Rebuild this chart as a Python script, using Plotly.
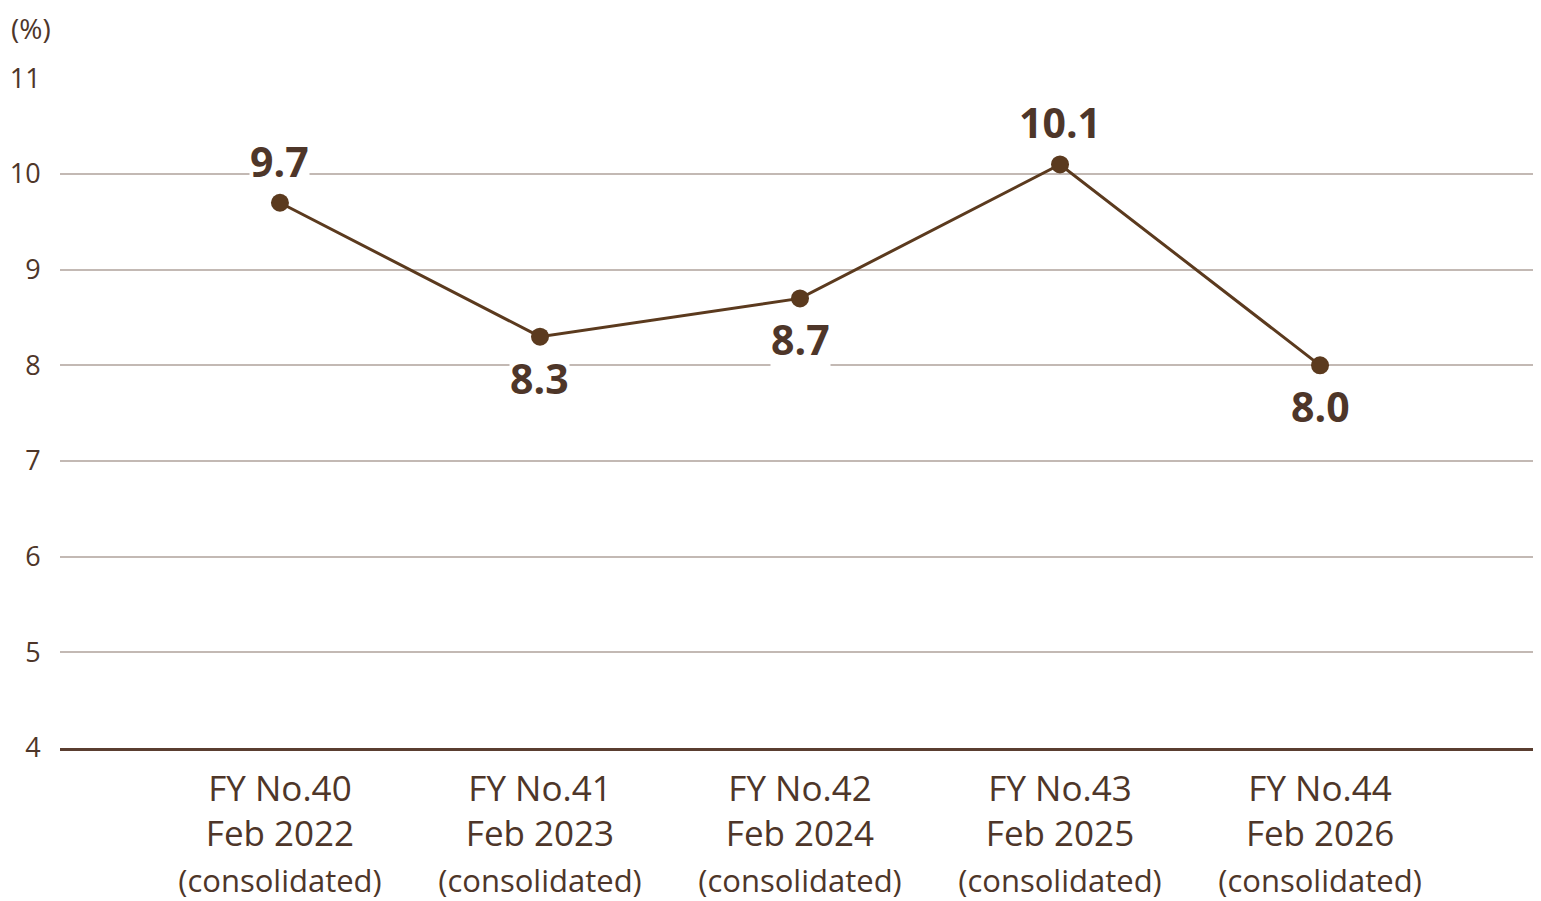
import plotly.graph_objects as go

# data
periods = ["FY No.40", "FY No.41", "FY No.42", "FY No.43", "FY No.44"]
months = ["Feb 2022", "Feb 2023", "Feb 2024", "Feb 2025", "Feb 2026"]
values = [9.7, 8.3, 8.7, 10.1, 8.0]
label_side = ["above", "below", "below", "above", "below"]
y_ticks = [4, 5, 6, 7, 8, 9, 10, 11]

LINE = "#5b3a1e"
TEXT = "#4e3629"
GRID = "#c3b9b4"
FONT = "Open Sans"

tick_text = [
    f"{p}<br>{m}<br><span style='font-size:31px'>(consolidated)</span>"
    for p, m in zip(periods, months)
]
x_idx = list(range(len(values)))

fig = go.Figure()
fig.add_trace(go.Scatter(
    x=x_idx,
    y=values,
    mode="lines+markers",
    line=dict(color=LINE, width=3),
    marker=dict(size=18, color=LINE),
    hoverinfo="skip",
    showlegend=False,
))

# value labels with white background so they break the gridlines
for i, (v, side) in enumerate(zip(values, label_side)):
    fig.add_annotation(
        x=i, y=v, xref="x", yref="y",
        text=f"<b>{v:.1f}</b>",
        showarrow=False,
        yshift=42 if side == "above" else -41,
        font=dict(family=FONT, size=41, color=TEXT),
        bgcolor="white",
        borderpad=0,
    )

fig.add_annotation(
    x=0, y=1, xref="paper", yref="paper",
    text="(%)", showarrow=False,
    xanchor="left", yanchor="top",
    xshift=-50, yshift=70,
    font=dict(family=FONT, size=28, color=TEXT),
    borderpad=0,
)

# page body has an 8px margin, so the figure is 8px smaller than the window
fig.update_layout(
    width=1533,
    height=893,
    margin=dict(l=52, r=1, t=70, b=153),
    paper_bgcolor="white",
    plot_bgcolor="white",
    font=dict(family=FONT, color=TEXT),
    xaxis=dict(
        range=[-0.846, 4.846],
        tickmode="array",
        tickvals=x_idx,
        ticktext=tick_text,
        tickfont=dict(family=FONT, size=35, color=TEXT),
        showgrid=False,
        zeroline=False,
        showline=True,
        linecolor="#5a3e30",
        linewidth=2.5,
        ticks="outside",
        ticklen=8,
        tickcolor="rgba(0,0,0,0)",
        automargin=False,
    ),
    yaxis=dict(
        range=[4, 11.004],
        tickmode="array",
        tickvals=y_ticks,
        tickfont=dict(family=FONT, size=27, color=TEXT),
        showgrid=True,
        gridcolor=GRID,
        gridwidth=1.5,
        zeroline=False,
        showline=False,
        ticks="outside",
        ticklen=13,
        tickcolor="rgba(0,0,0,0)",
        automargin=False,
    ),
)

fig.write_html("out.html")
